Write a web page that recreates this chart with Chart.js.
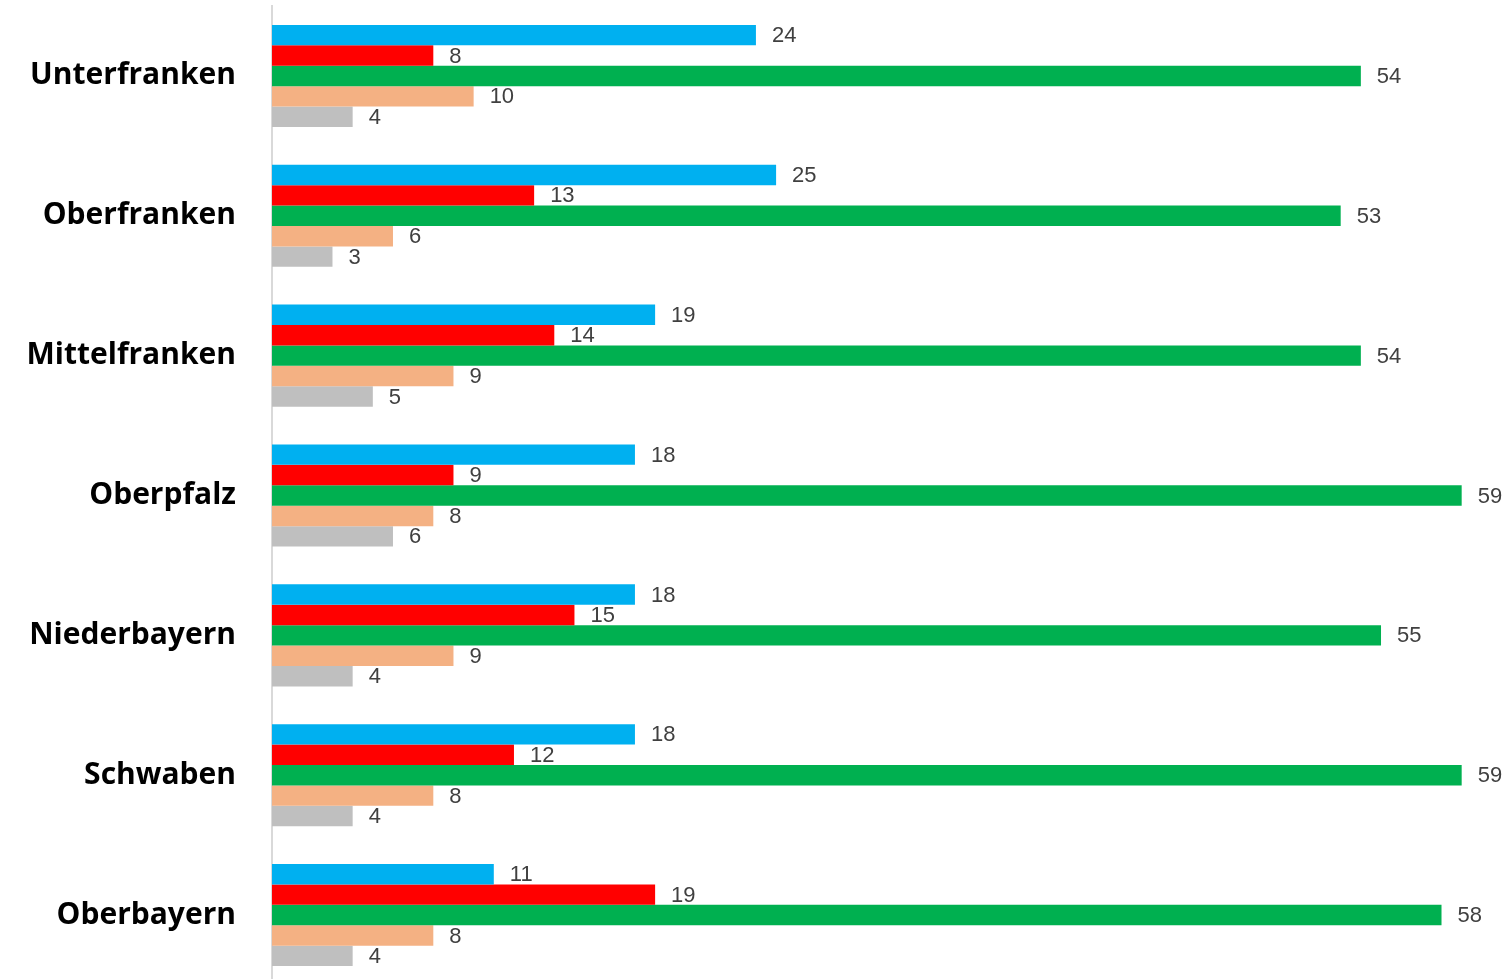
<!DOCTYPE html>
<html>
<head>
<meta charset="utf-8">
<script src="https://cdn.jsdelivr.net/npm/chart.js@4"></script>
<style>
  html, body { margin: 0; padding: 0; background: #fff; overflow: hidden; }
  #wrap { width: 1506px; height: 985px; }
</style>
</head>
<body>
<div id="wrap"><canvas id="barChart"></canvas></div>
<script>
const regions = ["Unterfranken", "Oberfranken", "Mittelfranken", "Oberpfalz", "Niederbayern", "Schwaben", "Oberbayern"];
const seriesBlue = [24, 25, 19, 18, 18, 18, 11];
const seriesRed = [8, 13, 14, 9, 15, 12, 19];
const seriesGreen = [54, 53, 54, 59, 55, 59, 58];
const seriesPeach = [10, 6, 9, 8, 9, 8, 8];
const seriesGray = [4, 3, 5, 6, 4, 4, 4];

// value labels at the end of each bar
const valueLabels = {
  id: "valueLabels",
  afterDatasetsDraw(chart) {
    const ctx = chart.ctx;
    ctx.save();
    ctx.font = "22px 'Liberation Sans', Arial, sans-serif";
    ctx.fillStyle = "#404040";
    ctx.textAlign = "left";
    ctx.textBaseline = "middle";
    chart.data.datasets.forEach(function (ds, i) {
      chart.getDatasetMeta(i).data.forEach(function (bar, j) {
        ctx.fillText(String(ds.data[j]), bar.x + 16, bar.y + 1);
      });
    });
    ctx.restore();
  },
};

const ctx = document.getElementById("barChart").getContext("2d");

new Chart(ctx, {
  type: "bar",
  data: {
    labels: regions,
    datasets: [
      { data: seriesBlue, backgroundColor: "#00B0F0" },
      { data: seriesRed, backgroundColor: "#FF0000" },
      { data: seriesGreen, backgroundColor: "#00B050" },
      { data: seriesPeach, backgroundColor: "#F4B183" },
      { data: seriesGray, backgroundColor: "#BFBFBF" },
    ],
  },
  options: {
    indexAxis: "y",
    responsive: true,
    maintainAspectRatio: false,
    animation: false,
    layout: { padding: { top: 6, right: 4, bottom: 0, left: 0 } },
    datasets: { bar: { categoryPercentage: 0.73, barPercentage: 1, borderWidth: 0 } },
    scales: {
      x: {
        min: 0,
        max: 61,
        display: false,
        grid: { display: false },
      },
      y: {
        grid: { display: false, drawTicks: false },
        border: { display: true, color: "#D9D9D9", width: 2 },
        ticks: {
          color: "#000",
          padding: 36,
          font: { family: "'Open Sans', 'Noto Sans', sans-serif", size: 30, weight: "bold" },
        },
        afterFit: function (scale) {
          scale.width = 272;
          scale.paddingTop = 0;
          scale.paddingBottom = 0;
        },
      },
    },
    plugins: {
      legend: { display: false },
      tooltip: { enabled: false },
    },
  },
  plugins: [valueLabels],
});
</script>
</body>
</html>
